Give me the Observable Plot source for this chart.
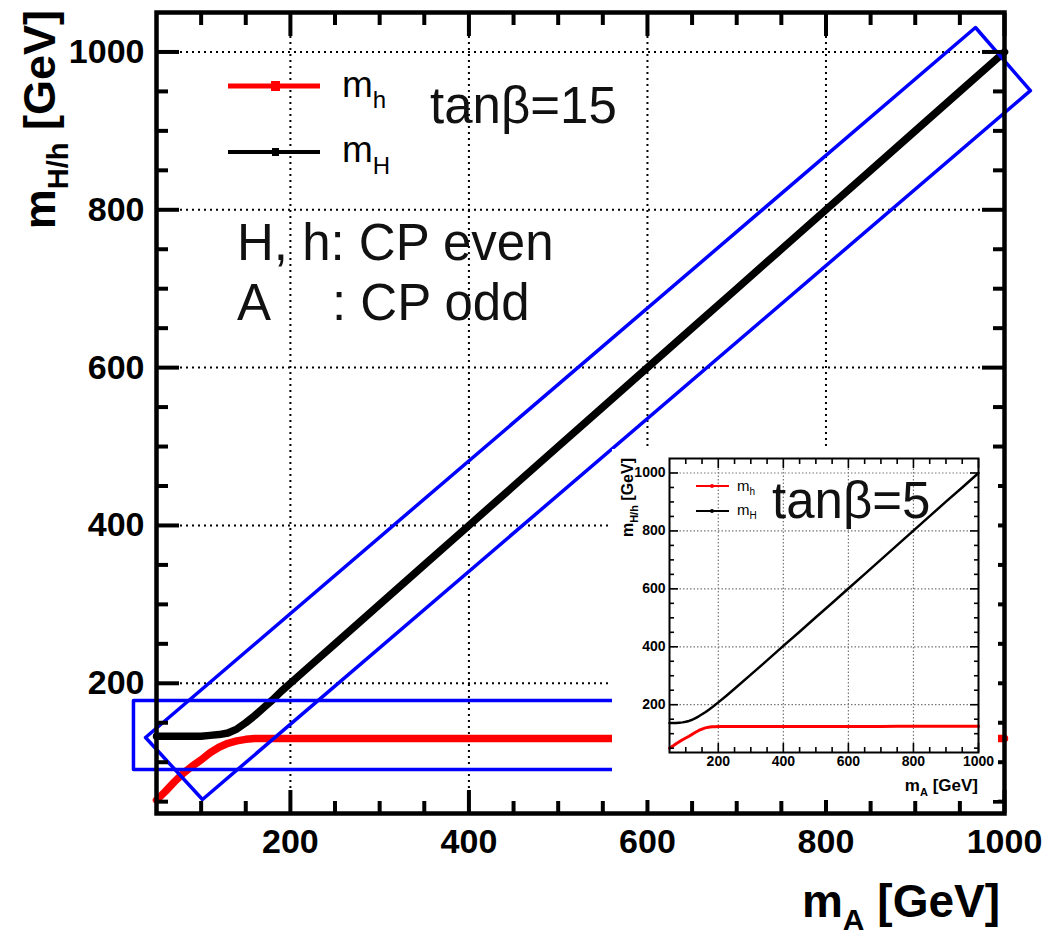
<!DOCTYPE html>
<html><head><meta charset="utf-8">
<script src="https://cdn.jsdelivr.net/npm/d3@7"></script>
<script src="https://cdn.jsdelivr.net/npm/@observablehq/plot@0.6"></script>
<style>
body{margin:0;background:#fff;}
#wrap{position:relative;width:1043px;height:935px;overflow:hidden;font-family:"Liberation Sans",Arial,sans-serif;background:#fff;}
#main{position:absolute;left:0;top:0;}
#inset{position:absolute;left:612px;top:449px;width:386px;height:351px;background:#fff;}
</style></head><body>
<div id="wrap"><div id="main"></div><div id="inset"></div></div>
<script>
// ---- data ----
const mA = [50,60,70,80,90,100,110,120,130,140,150,160,170,180,190,200,225,250,300,350,400,450,500,550,600,650,700,750,800,850,900,950,1000];
// tan(beta) = 15 (main panel)
const mh_tb15 = [52,63,75,86,95,103,112,119,124,127,129,130,130,130,130,130,130,130,130,130,130,130,130,130,130,130,130,130,130,130,130,130,130];
const mH_tb15 = [133,133,133,133,133,133,134,135,137,142,150,159,169,179,190,200,225,250,300,350,400,450,500,550,600,650,700,750,800,850,900,950,1000];
// tan(beta) = 5 (inset)
const mh_tb5 = [50,57,65,72,79,85,91,98,105,111,116,120,122,124,124,125,125,125,125,125,125,125,125,125,125,125,125,126,126,126,126,126,126];
const mH_tb5 = [137,137,137,138,139,141,144,148,154,160,167,174,182,190,199,208,231,255,304,353,403,452,502,551,601,651,701,751,801,851,901,950,1000];
// axis ticks
const xMajor = [200,400,600,800,1000];
const xMinor = [100,150,250,300,350,450,500,550,650,700,750,850,900,950];
const yMajor = [200,400,600,800,1000];
const yMinor = [50,100,150,250,300,350,450,500,550,650,700,750,850,900,950];
// blue annotation boxes (data units)
const diagBox = [{x:37.7,y:131.3},{x:101.5,y:52.7},{x:1029,y:951},{x:967.5,y:1031},{x:37.7,y:131.3}];
const horizBox = [{x:24.2,y:178.2},{x:640,y:178.2},{x:640,y:90.8},{x:24.2,y:90.8},{x:24.2,y:178.2}];

const rows15 = mA.map((m,i)=>({mA:m, mh:mh_tb15[i], mH:mH_tb15[i]}));
const rows5 = mA.map((m,i)=>({mA:m, mh:mh_tb5[i], mH:mH_tb5[i]}));

const F = "'Liberation Sans', Arial, Helvetica, sans-serif";
const fmt = d => String(d);

function inTicks(k, vals, anchor, size, sw){
  const fn = k === "x" ? Plot.axisX : Plot.axisY;
  return fn(vals, {anchor, tickSize: -size, strokeWidth: sw, tickFormat: () => "", label: null});
}

function subText(g, o){
  const t = g.append("text")
    .attr("font-family", F)
    .attr("font-size", o.size)
    .attr("font-weight", o.weight || "normal")
    .attr("fill", o.fill || "#000")
    .attr("text-anchor", o.anchor || "start");
  if (o.rotate) t.attr("transform", `translate(${o.x},${o.y}) rotate(-90)`);
  else t.attr("x", o.x).attr("y", o.y);
  t.append("tspan").text(o.base);
  if (o.sub) {
    t.append("tspan").attr("font-size", o.subSize).attr("dy", o.subDy).text(o.sub);
    if (o.rest) t.append("tspan").attr("dy", -o.subDy).text(o.rest);
  }
  return t;
}
function plain(g, x, y, size, s){
  return g.append("text").attr("x", x).attr("y", y).attr("font-family", F)
    .attr("font-size", size).attr("fill", "#111").attr("text-anchor", "start").text(s);
}

// ---- main plot ----
const main = Plot.plot({
  width: 1043, height: 935,
  marginLeft: 156, marginRight: 39, marginTop: 12, marginBottom: 122,
  style: {fontFamily: F, background: "transparent", color: "#000"},
  x: {domain: [50, 1000]},
  y: {domain: [35, 1050]},
  marks: [
    Plot.ruleX(xMajor, {stroke: "#000", strokeWidth: 2, strokeDasharray: "2,4"}),
    Plot.ruleY(yMajor, {stroke: "#000", strokeWidth: 2, strokeDasharray: "2,4"}),
    Plot.line(rows15, {x: "mA", y: "mh", stroke: "#ff0000", strokeWidth: 7.5}),
    Plot.line(rows15, {x: "mA", y: "mH", stroke: "#000", strokeWidth: 7.5}),
    Plot.line(diagBox, {x: "x", y: "y", stroke: "#0000ff", strokeWidth: 3.5}),
    Plot.line(horizBox, {x: "x", y: "y", stroke: "#0000ff", strokeWidth: 3.5}),
    Plot.frame({stroke: "#000", strokeWidth: 4.5}),
    inTicks("x", xMajor, "bottom", 23, 4),
    inTicks("x", xMinor, "bottom", 12, 4),
    inTicks("x", xMajor, "top", 23, 4),
    inTicks("x", xMinor, "top", 12, 4),
    inTicks("y", yMajor, "left", 23, 4),
    inTicks("y", yMinor, "left", 12, 4),
    inTicks("y", yMajor, "right", 23, 4),
    inTicks("y", yMinor, "right", 12, 4),
    Plot.axisX(xMajor, {anchor: "bottom", tickSize: 0, tickPadding: 15, fontSize: 34, fontWeight: "bold", label: null, tickFormat: fmt}),
    Plot.axisY(yMajor, {anchor: "left", tickSize: 0, tickPadding: 12, fontSize: 34, fontWeight: "bold", label: null, tickFormat: fmt})
  ]
});
document.getElementById("main").appendChild(main);
{
  const g = d3.select(main).append("g").attr("text-anchor", "start");
  // axis titles
  subText(g, {x: 1000, y: 917, base: "m", sub: "A", rest: " [GeV]", size: 46, subSize: 30, subDy: 13, weight: "bold", anchor: "end"});
  subText(g, {x: 55, y: 10, base: "m", sub: "H/h", rest: " [GeV]", size: 45, subSize: 29, subDy: 13, weight: "bold", anchor: "end", rotate: true});
  // legend
  g.append("line").attr("x1", 228).attr("x2", 320).attr("y1", 86).attr("y2", 86).attr("stroke", "#ff0000").attr("stroke-width", 5);
  g.append("rect").attr("x", 271).attr("y", 81).attr("width", 9).attr("height", 10).attr("fill", "#ff0000");
  g.append("line").attr("x1", 228).attr("x2", 320).attr("y1", 152).attr("y2", 152).attr("stroke", "#000").attr("stroke-width", 4);
  g.append("rect").attr("x", 272).attr("y", 148).attr("width", 7).attr("height", 8).attr("fill", "#000");
  subText(g, {x: 342, y: 97, base: "m", sub: "h", size: 37, subSize: 24, subDy: 11});
  subText(g, {x: 342, y: 162, base: "m", sub: "H", size: 37, subSize: 24, subDy: 12});
  // annotations
  plain(g, 430, 123, 51, "tanβ=15");
  plain(g, 237, 260, 51, "H, h: CP even");
  plain(g, 237, 320, 51, "A");
  plain(g, 332, 320, 51, ": CP odd");
}

// ---- inset plot (tan beta = 5) ----
const inset = Plot.plot({
  width: 386, height: 351,
  marginLeft: 57, marginRight: 20, marginTop: 9, marginBottom: 48,
  style: {fontFamily: F, background: "#fff", color: "#000"},
  x: {domain: [50, 1000]},
  y: {domain: [35, 1050]},
  marks: [
    Plot.ruleX(xMajor, {stroke: "#777", strokeWidth: 1.2, strokeDasharray: "1.5,2"}),
    Plot.ruleY(yMajor, {stroke: "#777", strokeWidth: 1.2, strokeDasharray: "1.5,2"}),
    Plot.line(rows5, {x: "mA", y: "mh", stroke: "#ff0000", strokeWidth: 3}),
    Plot.line(rows5, {x: "mA", y: "mH", stroke: "#000", strokeWidth: 2.5}),
    Plot.frame({stroke: "#000", strokeWidth: 2}),
    inTicks("x", xMajor, "bottom", 9, 1.6),
    inTicks("x", xMinor, "bottom", 5, 1.6),
    inTicks("x", xMajor, "top", 9, 1.6),
    inTicks("x", xMinor, "top", 5, 1.6),
    inTicks("y", yMajor, "left", 9, 1.6),
    inTicks("y", yMinor, "left", 5, 1.6),
    inTicks("y", yMajor, "right", 9, 1.6),
    inTicks("y", yMinor, "right", 5, 1.6),
    Plot.axisX(xMajor, {anchor: "bottom", tickSize: 0, tickPadding: 4, fontSize: 14, fontWeight: "bold", label: null, tickFormat: fmt}),
    Plot.axisY(yMajor, {anchor: "left", tickSize: 0, tickPadding: 4, fontSize: 14, fontWeight: "bold", label: null, tickFormat: fmt})
  ]
});
document.getElementById("inset").appendChild(inset);
{
  const g = d3.select(inset).append("g").attr("text-anchor", "start");
  subText(g, {x: 366, y: 342, base: "m", sub: "A", rest: " [GeV]", size: 17, subSize: 11, subDy: 5, weight: "bold", anchor: "end"});
  subText(g, {x: 21, y: 9, base: "m", sub: "H/h", rest: " [GeV]", size: 16, subSize: 11, subDy: 5, weight: "bold", anchor: "end", rotate: true});
  g.append("line").attr("x1", 84).attr("x2", 117).attr("y1", 37).attr("y2", 37).attr("stroke", "#ff0000").attr("stroke-width", 2);
  g.append("circle").attr("cx", 100).attr("cy", 37).attr("r", 2).attr("fill", "#ff0000");
  g.append("line").attr("x1", 84).attr("x2", 117).attr("y1", 62).attr("y2", 62).attr("stroke", "#000").attr("stroke-width", 2);
  g.append("circle").attr("cx", 100).attr("cy", 62).attr("r", 2).attr("fill", "#000");
  subText(g, {x: 125, y: 42, base: "m", sub: "h", size: 15, subSize: 10, subDy: 4});
  subText(g, {x: 125, y: 66, base: "m", sub: "H", size: 15, subSize: 10, subDy: 4});
  plain(g, 160, 69, 51, "tanβ=5");
}
</script>
</body></html>
